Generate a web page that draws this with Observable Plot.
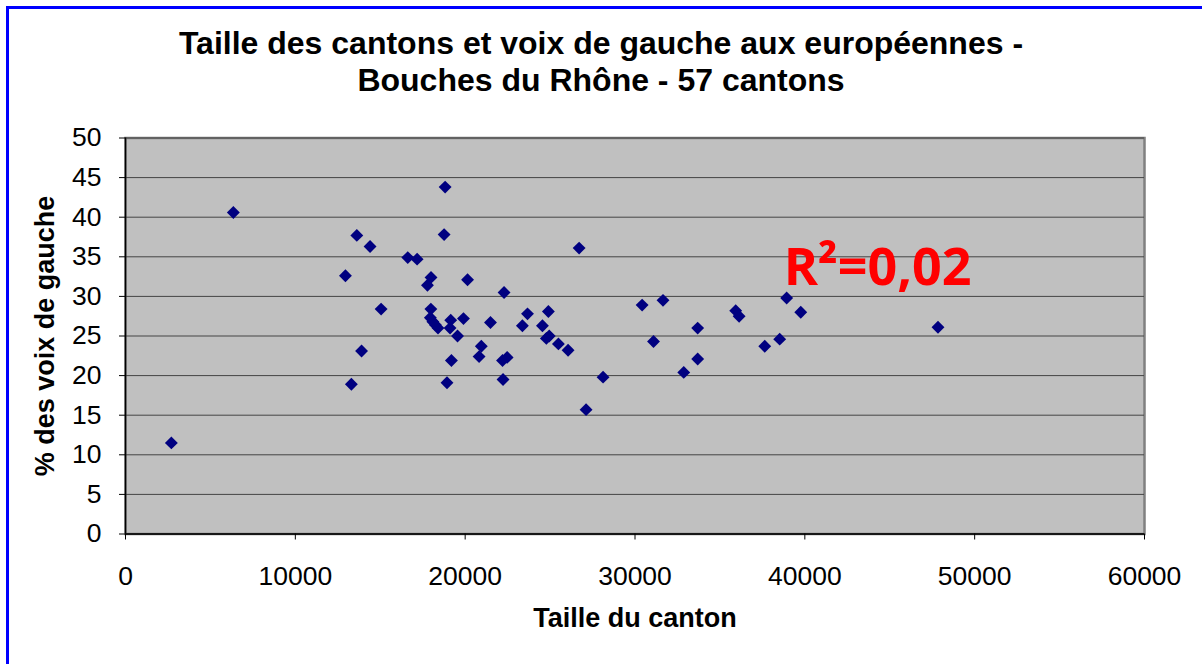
<!DOCTYPE html>
<html>
<head>
<meta charset="utf-8">
<script src="https://cdn.jsdelivr.net/npm/d3@7"></script>
<script src="https://cdn.jsdelivr.net/npm/@observablehq/plot@0.6"></script>
<style>
  html, body { margin: 0; padding: 0; background: #fff; }
  #wrap { position: relative; width: 1202px; height: 664px; overflow: hidden; font-family: "Liberation Sans", Arial, sans-serif; }
  #border { position: absolute; left: 6px; top: 6px; width: 1210px; height: 700px; border-top: 3px solid #0000ff; border-left: 3px solid #0000ff; box-sizing: border-box; pointer-events: none; z-index: 2; }
  #title { height: 100px; box-sizing: border-box; padding-top: 25px; text-align: center; font-weight: bold; font-size: 32px; line-height: 37px; color: #000; }
  #chart svg { display: block; }
</style>
</head>
<body>
<div id="wrap">
  <div id="border"></div>
  <div id="title">Taille des cantons et voix de gauche aux européennes -<br>Bouches du Rhône - 57 cantons</div>
  <div id="chart"></div>
</div>
<script>
// Taille du canton (population)
const tailles = [
  2700, 6350, 12950, 13300, 13620, 13900, 14400, 15050, 16620, 17170,
  17780, 17990, 17980, 17950, 18100, 18250, 18400, 18760, 18820, 18930,
  19110, 19150, 19190, 19550, 19900, 20140, 20820, 20950, 21490, 22200,
  22230, 22290, 22470, 23370, 23670, 24550, 24780, 24950, 24900, 25490,
  26060, 26710, 27120, 28120, 30420, 31090, 31650, 32870, 33690, 33690,
  35930, 36130, 37640, 38520, 38930, 39760, 47840
];
// % des voix de gauche
const voixGauche = [
  11.5, 40.6, 32.6, 18.9, 37.7, 23.1, 36.3, 28.4, 34.9, 34.7,
  31.4, 32.4, 28.4, 27.3, 26.8, 26.4, 26.0, 37.8, 43.8, 19.1,
  26.0, 27.0, 21.9, 25.0, 27.2, 32.1, 22.4, 23.7, 26.7, 21.9,
  19.5, 30.5, 22.3, 26.3, 27.8, 26.3, 24.7, 25.0, 28.1, 24.0,
  23.2, 36.1, 15.7, 19.8, 28.9, 24.3, 29.5, 20.4, 26.0, 22.1,
  28.2, 27.5, 23.7, 24.6, 29.8, 28.0, 26.1
];
const xTicks = [0, 10000, 20000, 30000, 40000, 50000, 60000];
const yTicks = [0, 5, 10, 15, 20, 25, 30, 35, 40, 45, 50];
const xTitle = "Taille du canton";
const yTitle = "% des voix de gauche";
const annotText = ["R²=0,02"];
const annotX = [38760];
const annotY = [31.5];

const data = tailles.map((t, i) => ({taille: t, voix: voixGauche[i]}));
const annot = annotText.map((s, i) => ({label: s, x: annotX[i], y: annotY[i]}));

const chart = Plot.plot({
  width: 1202,
  height: 564,
  marginLeft: 125,
  marginRight: 58,
  marginTop: 37.5,
  marginBottom: 130.5,
  style: {fontFamily: "'Liberation Sans', Arial, sans-serif", background: "transparent", color: "#000"},
  x: {domain: [0, 60000]},
  y: {domain: [0, 50]},
  marks: [
    Plot.frame({fill: "#c0c0c0", stroke: "#808080", strokeWidth: 2.5}),
    Plot.gridY(yTicks, {stroke: "#444", strokeOpacity: 1, strokeWidth: 1}),
    Plot.ruleX([0], {stroke: "#000", strokeWidth: 1.5}),
    Plot.ruleY([0], {stroke: "#000", strokeWidth: 1.5}),
    Plot.axisY(yTicks, {tickSize: 6, tickPadding: 18, fontSize: 26.5, tickFormat: d => String(d), label: null, stroke: "#000"}),
    Plot.axisX(xTicks, {tickSize: 6, tickPadding: 26, fontSize: 26.5, tickFormat: d => String(d), label: null, stroke: "#000"}),
    Plot.dot(data, {x: "taille", y: "voix", symbol: "diamond2", r: 5.8, fill: "#000080", stroke: "none"}),
    Plot.text(annot, {x: "x", y: "y", text: "label", textAnchor: "start", lineAnchor: "bottom", fontSize: 52, fontWeight: "bold", fill: "#ff0000", fontFamily: "Open Sans"}),
    Plot.text([xTitle], {frameAnchor: "bottom", dy: 84, textAnchor: "middle", lineAnchor: "middle", fontSize: 27, fontWeight: "bold", fill: "#000"}),
    Plot.text([yTitle], {frameAnchor: "left", dx: -80, rotate: -90, textAnchor: "middle", lineAnchor: "middle", fontSize: 27, fontWeight: "bold", fill: "#000"})
  ]
});
document.getElementById("chart").appendChild(chart);
</script>
</body>
</html>
